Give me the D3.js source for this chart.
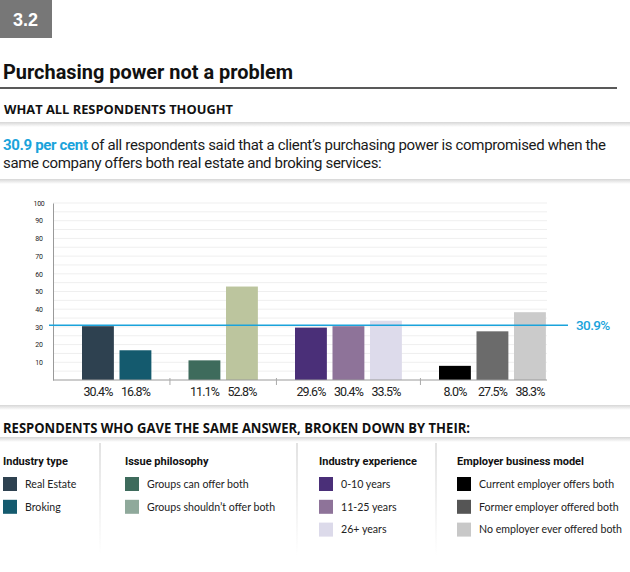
<!DOCTYPE html>
<html><head><meta charset="utf-8">
<script src="https://cdn.jsdelivr.net/npm/d3@7"></script>
<style>body{margin:0;background:#fff}svg{display:block}</style>
</head><body>
<script>
// ---- data ----
const groups = ["Industry type", "Issue philosophy", "Industry experience", "Employer business model"];
const categories = ["Real Estate", "Broking", "Groups can offer both", "Groups shouldn\u2019t offer both",
  "0-10 years", "11-25 years", "26+ years",
  "Current employer offers both", "Former employer offered both", "No employer ever offered both"];
const values = [30.4, 16.8, 11.1, 52.8, 29.6, 30.4, 33.5, 8.0, 27.5, 38.3];
const groupOf = [0, 0, 1, 1, 2, 2, 2, 3, 3, 3];
const barColors = ["#2e4150", "#145a6e", "#3e6b5c", "#bcc59e", "#4a2f78", "#8e7399", "#dddbeb", "#000000", "#6b6b6b", "#cbcbcb"];
const legendColors = ["#2e4150", "#145a6e", "#3e6b5c", "#8fa99b", "#4a2f78", "#8e7399", "#dcdaea", "#000000", "#555555", "#c8c8c8"];
const yTicks = [10, 20, 30, 40, 50, 60, 70, 80, 90, 100];
const average = 30.9;

const W = 630, H = 572;
const svg = d3.select("body").append("svg").attr("width", W).attr("height", H);
const defs = svg.append("defs");
const sh = defs.append("linearGradient").attr("id", "shadow").attr("x1", 0).attr("y1", 0).attr("x2", 0).attr("y2", 1);
sh.append("stop").attr("offset", 0).attr("stop-color", "#d6d6d6");
sh.append("stop").attr("offset", 1).attr("stop-color", "#ffffff");
const vf = defs.append("linearGradient").attr("id", "vfade").attr("x1", 0).attr("y1", 0).attr("x2", 0).attr("y2", 1);
vf.append("stop").attr("offset", 0).attr("stop-color", "#e2e2e2");
vf.append("stop").attr("offset", 1).attr("stop-color", "#ffffff");

const narrow = "Roboto, 'Liberation Sans', sans-serif";

// ---- header ----
svg.append("rect").attr("x", 0).attr("y", 0).attr("width", 52).attr("height", 38).attr("fill", "#777777");
svg.append("text").attr("x", 13).attr("y", 26).attr("fill", "#fff")
  .style("font", "bold 18px 'Liberation Sans', Arial, sans-serif").text("3.2");
svg.append("text").attr("x", 3).attr("y", 79).attr("fill", "#111")
  .attr("textLength", 290).attr("lengthAdjust", "spacingAndGlyphs")
  .style("font", "bold 20px Roboto, 'Liberation Sans', sans-serif").text("Purchasing power not a problem");
svg.append("line").attr("x1", 0).attr("x2", 617).attr("y1", 88).attr("y2", 88).attr("stroke", "#222").attr("stroke-width", 1.5);
svg.append("text").attr("x", 4).attr("y", 114).attr("fill", "#111")
  .attr("textLength", 229).attr("lengthAdjust", "spacingAndGlyphs")
  .style("font", "bold 12.5px 'Open Sans', sans-serif").text("WHAT ALL RESPONDENTS THOUGHT");

function shadow(y) {
  svg.append("rect").attr("x", 0).attr("y", y).attr("width", W).attr("height", 5).attr("fill", "url(#shadow)");
}
shadow(122); shadow(179); shadow(405); shadow(437);

const introFont = "15px " + narrow;
const intro = svg.append("text").attr("x", 3).attr("y", 150).attr("fill", "#1a1a1a")
  .style("font", introFont).style("letter-spacing", "-0.34px");
intro.append("tspan").attr("fill", "#1aa3db").attr("font-weight", "bold").text("30.9 per cent");
intro.append("tspan").text(" of all respondents said that a client\u2019s purchasing power is compromised when the");
svg.append("text").attr("x", 3).attr("y", 168).attr("fill", "#1a1a1a")
  .style("font", introFont).style("letter-spacing", "-0.34px")
  .text("same company offers both real estate and broking services:");

// ---- chart ----
const y = d3.scaleLinear().domain([0, 100]).range([380, 203]);
const slot = categories.map((c, i) => i + groupOf[i] * 0.84);
const x = d3.scaleLinear().domain([0, 1]).range([82, 119.5]);
const bw = x(0.85) - x(0);
const left = 53, right = 547;

const grid = d3.range(5, 101, 5);
svg.append("g").selectAll("line").data(grid).join("line")
  .attr("x1", left).attr("x2", right).attr("y1", d => y(d)).attr("y2", d => y(d))
  .attr("stroke", "#efefef").attr("stroke-width", 1);

const yAxis = d3.axisLeft(y).tickValues(yTicks).tickSize(0).tickPadding(0);
const ya = svg.append("g").attr("transform", `translate(${left},0)`).call(yAxis);
ya.select(".domain").attr("stroke", "#9a9a9a");
ya.selectAll("text").attr("x", -14).attr("text-anchor", "middle").attr("fill", "#222")
  .style("font", "7px " + narrow).style("letter-spacing", "-0.3px");

svg.append("g").selectAll("rect").data(values).join("rect")
  .attr("x", (d, i) => x(slot[i])).attr("width", bw)
  .attr("y", d => y(d)).attr("height", d => y(0) - y(d))
  .attr("fill", (d, i) => barColors[i]);

svg.append("line").attr("x1", left).attr("x2", right).attr("y1", y(0)).attr("y2", y(0)).attr("stroke", "#9a9a9a");

// group separators
const seps = [1, 3, 6].map(i => (x(slot[i]) + bw + x(slot[i + 1])) / 2);
svg.append("g").selectAll("line").data(seps).join("line")
  .attr("x1", d => d).attr("x2", d => d).attr("y1", y(0) - 2).attr("y2", y(0) + 5)
  .attr("stroke", "#aaa");

svg.append("g").selectAll("text").data(values).join("text")
  .attr("x", (d, i) => x(slot[i]) + bw / 2).attr("y", 396).attr("text-anchor", "middle")
  .attr("fill", "#222").style("font", "12.5px " + narrow).style("letter-spacing", "-0.9px")
  .text(d => d.toFixed(1) + "%");

svg.append("line").attr("x1", 49).attr("x2", 568).attr("y1", y(average)).attr("y2", y(average))
  .attr("stroke", "#1aa3db").attr("stroke-width", 1.5);
svg.append("text").attr("x", 576).attr("y", y(average)).attr("dy", "0.35em").attr("fill", "#1aa3db")
  .style("font", "500 13.5px " + narrow).style("letter-spacing", "-0.6px").text(average.toFixed(1) + "%");

// ---- legend ----
svg.append("text").attr("x", 3).attr("y", 433).attr("fill", "#111")
  .attr("textLength", 467).attr("lengthAdjust", "spacingAndGlyphs")
  .style("font", "bold 13.5px 'Open Sans', sans-serif").text("RESPONDENTS WHO GAVE THE SAME ANSWER, BROKEN DOWN BY THEIR:");

const colX = [3, 125, 319, 457];
const sepX = [100, 297, 436];
svg.append("g").selectAll("rect").data(sepX).join("rect")
  .attr("x", d => d - 1).attr("width", 2).attr("y", 443).attr("height", 112).attr("fill", "url(#vfade)");

groups.forEach((g, gi) => {
  svg.append("text").attr("x", colX[gi]).attr("y", 465).attr("fill", "#111")
    .style("font", "bold 11px Roboto, 'Liberation Sans', sans-serif").text(g);
  const idx = categories.map((c, i) => i).filter(i => groupOf[i] === gi);
  idx.forEach((ci, k) => {
    const cy = 484 + k * 22.8;
    svg.append("rect").attr("x", colX[gi]).attr("y", cy - 7).attr("width", 14).attr("height", 14)
      .attr("fill", legendColors[ci]);
    svg.append("text").attr("x", colX[gi] + 22).attr("y", cy).attr("dy", "0.35em").attr("fill", "#222")
      .style("font", "10.6px Lato, 'Open Sans', sans-serif").text(categories[ci]);
  });
});
</script>
</body></html>
